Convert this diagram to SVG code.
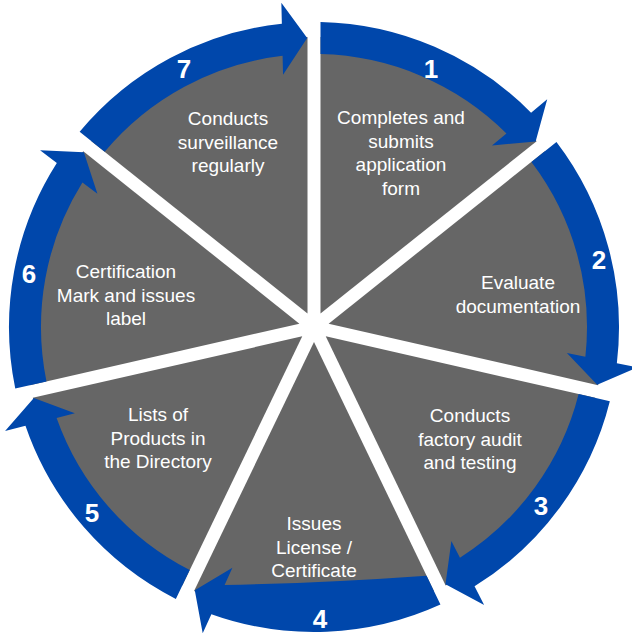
<svg xmlns="http://www.w3.org/2000/svg" width="632" height="635" viewBox="0 0 632 635">
<style>
.sector{fill:#666666}
.arrow{fill:#0047AB}
.label{font-family:"Liberation Sans",Arial,sans-serif;font-size:19px;fill:#ffffff;text-anchor:middle}
.num{font-family:"Liberation Sans Narrow","Arial Narrow","Liberation Sans",sans-serif;font-weight:bold;font-size:26px;fill:#ffffff;text-anchor:middle}
</style>
<rect width="632" height="635" fill="#ffffff"/>
<g id="step1">
<path class="sector" d="M320.51 313.49 L320.5 37.07 A290 290 0 0 1 536.62 141.15 Z"/>
<text class="label"><tspan x="401" y="124">Completes and</tspan><tspan x="401" y="147.5">submits</tspan><tspan x="401" y="171">application</tspan><tspan x="401" y="194.5">form</tspan></text>
</g>
<g id="step2">
<path class="sector" d="M328.62 323.66 L544.72 151.31 A290 290 0 0 1 598.11 385.17 Z"/>
<text class="label"><tspan x="518" y="289">Evaluate</tspan><tspan x="518" y="312.5">documentation</tspan></text>
</g>
<g id="step3">
<path class="sector" d="M325.73 336.35 L595.21 397.85 A290 290 0 0 1 445.65 585.40 Z"/>
<text class="label"><tspan x="470" y="422">Conducts</tspan><tspan x="470" y="445.5">factory audit</tspan><tspan x="470" y="469">and testing</tspan></text>
</g>
<g id="step4">
<path class="sector" d="M314 342 L433.93 591.04 A290 290 0 0 1 194.07 591.04 Z"/>
<text class="label"><tspan x="314" y="530">Issues</tspan><tspan x="314" y="553.5">License /</tspan><tspan x="314" y="577">Certificate</tspan></text>
</g>
<g id="step5">
<path class="sector" d="M302.27 336.35 L182.35 585.40 A290 290 0 0 1 32.79 397.85 Z"/>
<text class="label"><tspan x="158" y="421">Lists of</tspan><tspan x="158" y="444.5">Products in</tspan><tspan x="158" y="468">the Directory</tspan></text>
</g>
<g id="step6">
<path class="sector" d="M299.38 323.66 L29.89 385.17 A290 290 0 0 1 83.28 151.31 Z"/>
<text class="label"><tspan x="126" y="278">Certification</tspan><tspan x="126" y="301.5">Mark and issues</tspan><tspan x="126" y="325">label</tspan></text>
</g>
<g id="step7">
<path class="sector" d="M307.49 313.49 L91.38 141.15 A290 290 0 0 1 307.5 37.07 Z"/>
<text class="label"><tspan x="228" y="125">Conducts</tspan><tspan x="228" y="148.5">surveillance</tspan><tspan x="228" y="172">regularly</tspan></text>
</g>
<g id="connectors">
<path class="arrow" d="M320.5 22.07 A305 305 0 0 1 531.08 112.76 L547.21 99.27 L535.64 141.54 L491.99 145.47 L506.45 133.38 A273 273 0 0 0 320.5 54.08 Z"/>
<path class="arrow" d="M556.45 141.96 A305 305 0 0 1 616.85 363.14 L637.46 367.33 L597.19 384.65 L566.90 352.97 L585.37 356.73 A273 273 0 0 0 531.43 161.92 Z"/>
<path class="arrow" d="M609.84 401.19 A305 305 0 0 1 474.56 586.31 L484.13 605.04 L445.49 584.35 L451.37 540.92 L459.95 557.71 A273 273 0 0 0 578.63 394.07 Z"/>
<path class="arrow" d="M440.44 604.55 A305 305 0 0 1 211.37 614.22 L202.70 633.37 L194.78 590.27 L232.40 567.79 L224.63 584.96 Q325.6 583 426.55 575.71 Z"/>
<path class="arrow" d="M175.84 598.91 A305 305 0 0 1 25.47 425.84 L5.08 431.01 L33.84 397.93 L74.88 413.33 L56.61 417.96 A273 273 0 0 0 189.73 570.07 Z"/>
<path class="arrow" d="M15.26 388.51 A305 305 0 0 1 56.82 163.03 L40.07 150.31 L83.86 152.18 L97.41 193.87 L82.40 182.46 A273 273 0 0 0 46.47 381.39 Z"/>
<path class="arrow" d="M79.65 131.80 A305 305 0 0 1 281.85 23.70 L281.35 2.68 L307.19 38.08 L283.05 74.66 L282.60 55.82 A273 273 0 0 0 104.67 151.76 Z"/>
<text class="num" x="431" y="78">1</text>
<text class="num" x="599" y="269">2</text>
<text class="num" x="541" y="515">3</text>
<text class="num" x="320" y="628">4</text>
<text class="num" x="92" y="522">5</text>
<text class="num" x="29" y="283">6</text>
<text class="num" x="184" y="78">7</text>
</g>
</svg>
